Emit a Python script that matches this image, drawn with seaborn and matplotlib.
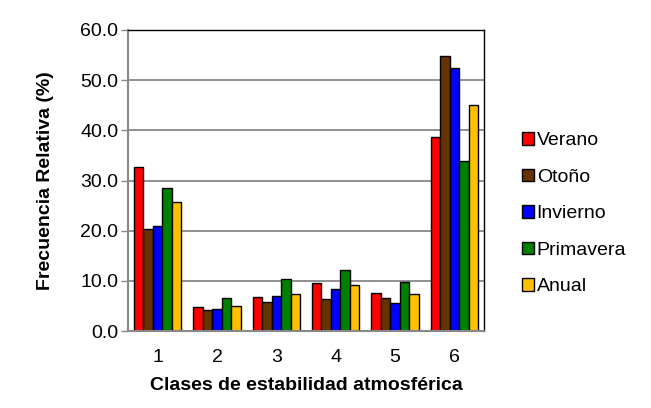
import matplotlib
matplotlib.use("Agg")
import matplotlib.pyplot as plt
import seaborn as sns
import pandas as pd

clases = ["1", "2", "3", "4", "5", "6"]
verano = [32.6, 4.8, 6.7, 9.6, 7.6, 38.7]
otono = [20.3, 4.2, 5.8, 6.4, 6.5, 54.9]
invierno = [21.0, 4.4, 6.9, 8.4, 5.6, 52.4]
primavera = [28.6, 6.5, 10.3, 12.2, 9.8, 33.9]
anual = [25.7, 5.0, 7.4, 9.2, 7.4, 45.1]
series_names = ["Verano", "Otoño", "Invierno", "Primavera", "Anual"]
colors = ["#FF0000", "#663300", "#0000FF", "#008000", "#FFC000"]

rows = []
for name, vals in zip(series_names, [verano, otono, invierno, primavera, anual]):
    for c, v in zip(clases, vals):
        rows.append({"Clase": c, "Serie": name, "Valor": v})
df = pd.DataFrame(rows)

sns.set_theme(style="white")
plt.rcParams["font.family"] = ["Liberation Sans", "DejaVu Sans"]
plt.rcParams["text.color"] = "black"
plt.rcParams["axes.labelcolor"] = "black"
plt.rcParams["xtick.color"] = "black"
plt.rcParams["ytick.color"] = "black"

FS = 14
fig = plt.figure(figsize=(6.51, 4.08), dpi=100)
ax = fig.add_axes([128/651, 1-331/408, (484-128)/651, (331-30)/408])

sns.barplot(data=df, x="Clase", y="Valor", hue="Serie", palette=colors,
            hue_order=series_names, order=clases, width=0.8,
            edgecolor="black", linewidth=1.0, ax=ax, saturation=1)

ax.set_ylim(0, 60)
ax.set_yticks(range(0, 61, 10))
ax.set_yticklabels([f"{v:.1f}" for v in range(0, 61, 10)], fontsize=FS)
ax.yaxis.grid(True, color="#888888", linewidth=1.3)
ax.set_axisbelow(True)
ax.tick_params(axis="y", which="both", left=True, length=5, width=1,
               color="#888888", labelcolor="black", pad=2)
ax.tick_params(axis="x", labelsize=FS, bottom=False, pad=7, labelcolor="black")
ax.set_xlabel("Clases de estabilidad atmosférica", fontsize=FS, fontweight="bold",
              labelpad=8, color="black")
ax.set_ylabel("Frecuencia Relativa (%)", fontsize=FS, fontweight="bold",
              labelpad=19, color="black")
for s in ["left", "bottom"]:
    ax.spines[s].set_color("#888888")
    ax.spines[s].set_linewidth(1.5)
for s in ["top", "right"]:
    ax.spines[s].set_color("black")
    ax.spines[s].set_linewidth(1.0)

leg = ax.legend(loc="center left", bbox_to_anchor=(1.058, 0.389), frameon=False,
                fontsize=FS, handlelength=0.6, handleheight=0.6, handletextpad=0.15,
                labelspacing=1.0)
for h in leg.legend_handles:
    h.set_edgecolor("black")
    h.set_linewidth(1.0)

fig.savefig("out.png", dpi=100)
